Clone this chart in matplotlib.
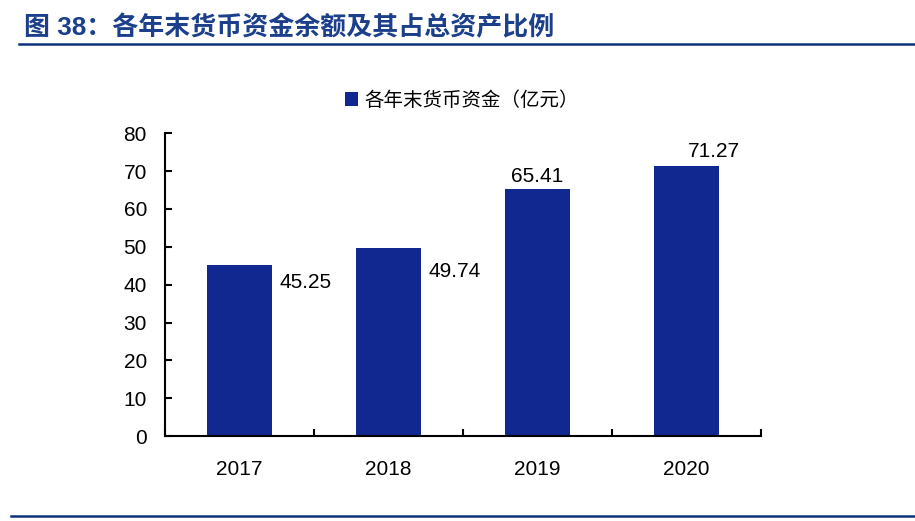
#!/usr/bin/env python3
# -*- coding: utf-8 -*-
"""
各年末货币资金余额柱状图
"""

import matplotlib
matplotlib.use("Agg")
import matplotlib.pyplot as plt
from matplotlib.lines import Line2D
from matplotlib.patches import Patch

# 数据
years = ['2017', '2018', '2019', '2020']
cash = [45.25, 49.74, 65.41, 71.27]
series_name = '各年末货币资金（亿元）'
title_text = '图 38：各年末货币资金余额及其占总资产比例'

# 数据标签相对柱顶的偏移（像素点）
label_offsets = [(20, -13), (20, -17), (0, 9), (20, 11)]
label_align = ['left', 'left', 'center', 'center']

plt.rcParams['font.family'] = ['Liberation Sans', 'Noto Sans CJK SC', 'DejaVu Sans']

bar_color = '#10288F'
title_color = '#1B3F8B'
line_color = '#0A3180'

fig = plt.figure(figsize=(9.15, 5.21), dpi=100)
ax = fig.add_axes([0.1803, 0.1631, 0.6514, 0.581])

x = list(range(len(years)))
bars = ax.bar(x, cash, width=0.43, color=bar_color, zorder=2)

# 数据标签
for rect, val, off, ha in zip(bars, cash, label_offsets, label_align):
    if ha == 'left':
        xx = rect.get_x() + rect.get_width()
        dx = off[0] - 14
    else:
        xx = rect.get_x() + rect.get_width() / 2
        dx = off[0]
    ax.annotate(f'{val:.2f}', (xx, val), xytext=(dx, off[1]),
                textcoords='offset points', ha=ha, va='center',
                fontsize=15, color='black')

# 坐标轴
ax.set_xlim(-0.5, len(years) - 0.5)
ax.set_ylim(0, 80)
ax.set_yticks(range(0, 81, 10))
ax.set_xticks(x)
ax.set_xticklabels(years)
ax.set_xticks([i - 0.5 for i in range(len(years) + 1)], minor=True)
ax.tick_params(axis='x', which='major', length=0, pad=17, labelsize=15)
ax.tick_params(axis='x', which='minor', direction='in', length=5, width=1.5)
ax.tick_params(axis='y', direction='in', length=5, width=1.5, pad=13, labelsize=15)
for s in ['top', 'right']:
    ax.spines[s].set_visible(False)
for s in ['left', 'bottom']:
    ax.spines[s].set_linewidth(1.5)

# 图例
handle = Patch(facecolor=bar_color, edgecolor='none')
fig.legend([handle], [series_name], loc='center', bbox_to_anchor=(0.5044, 0.808),
           frameon=False, handlelength=0.7, handleheight=0.7,
           handletextpad=0.3, prop={'family': ['Noto Sans CJK SC'], 'size': 14})

# 标题和分隔线
fig.text(24 / 915, 1 - 27 / 521, title_text, fontsize=18.7, fontweight='bold',
         color=title_color, va='center', ha='left',
         family=['Liberation Sans', 'Noto Sans CJK SC', 'DejaVu Sans'])
fig.add_artist(Line2D([19 / 915, 1], [1 - 43.5 / 521] * 2, color=line_color,
                      linewidth=1.8, transform=fig.transFigure))
fig.add_artist(Line2D([11 / 915, 1], [1 - 515.7 / 521] * 2, color=line_color,
                      linewidth=1.8, transform=fig.transFigure))

fig.savefig('out.png', dpi=100)
